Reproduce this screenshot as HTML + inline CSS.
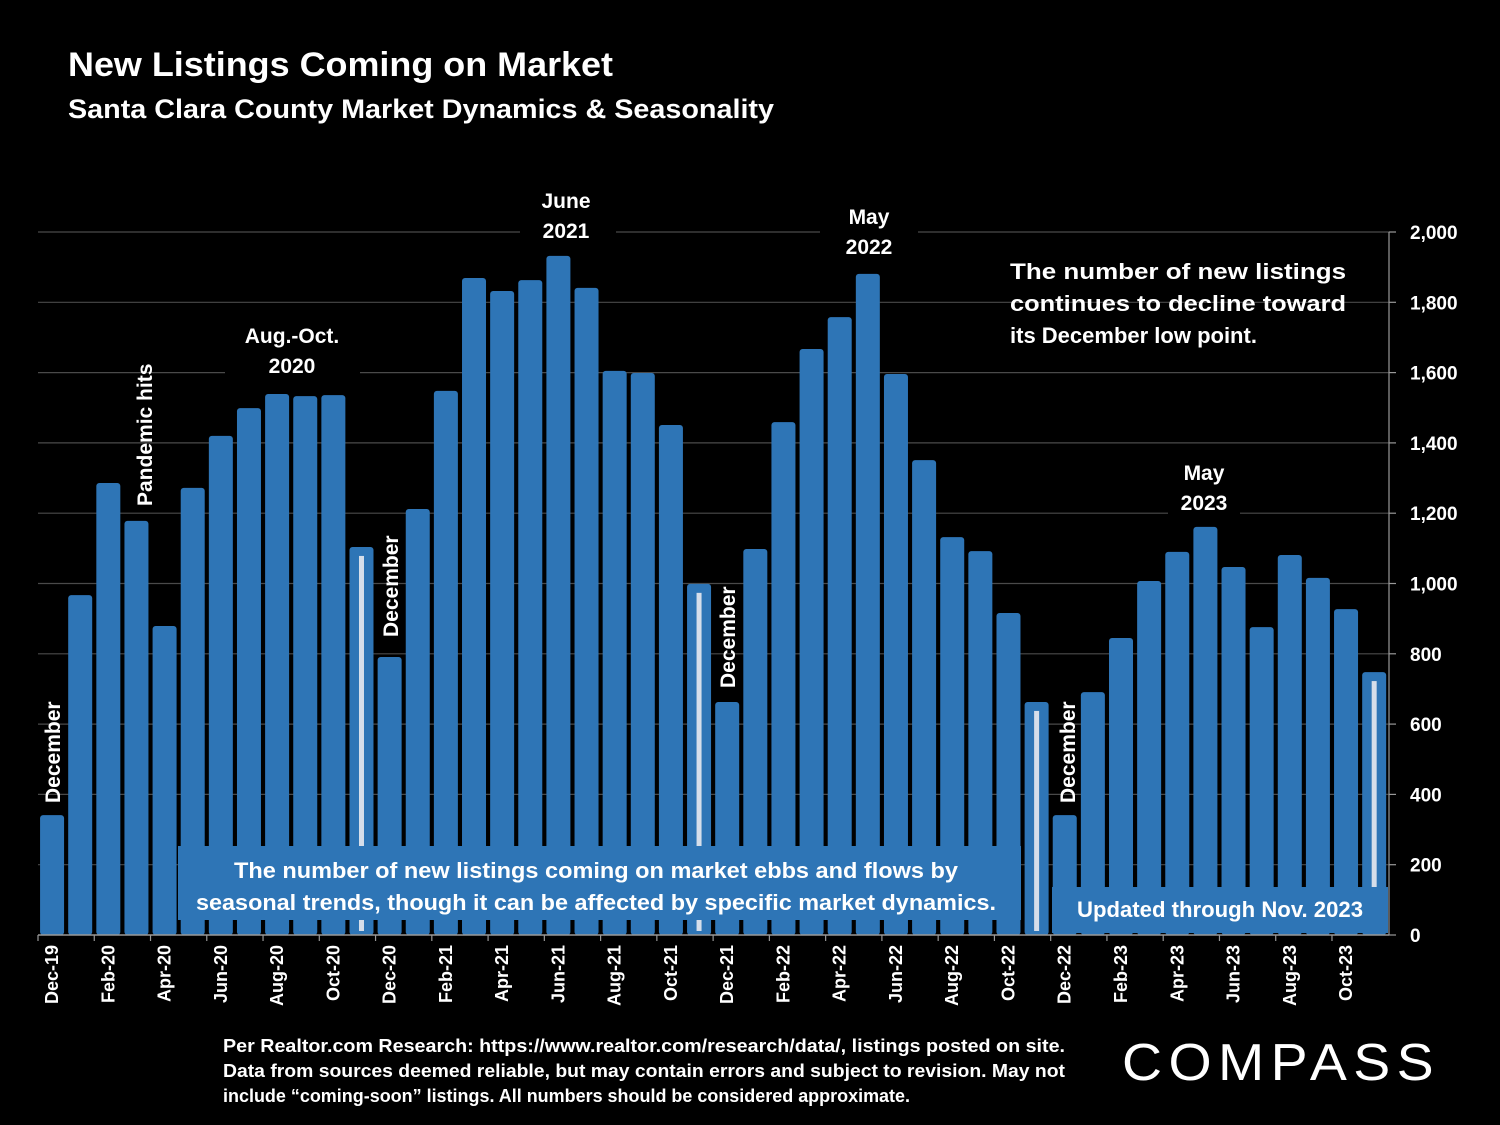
<!DOCTYPE html>
<html><head><meta charset="utf-8"><style>
html,body{margin:0;padding:0;background:#000;}
svg{display:block;font-family:"Liberation Sans",sans-serif;}
</style></head><body>
<svg id="chart" width="1500" height="1125" viewBox="0 0 1500 1125" xmlns="http://www.w3.org/2000/svg">
<rect width="1500" height="1125" fill="#000"/>
<text x="68" y="76" fill="#fff" font-size="34" font-weight="bold" textLength="545" lengthAdjust="spacingAndGlyphs">New Listings Coming on Market</text>
<text x="68" y="118" fill="#fff" font-size="27" font-weight="bold" textLength="706" lengthAdjust="spacingAndGlyphs">Santa Clara County Market Dynamics &amp; Seasonality</text>
<g id="grid"></g>
<g id="bars"></g>
<g id="axes"></g>
<g id="notes"></g>
</svg>
<script>
const months = ["Dec-19","Jan-20","Feb-20","Mar-20","Apr-20","May-20","Jun-20","Jul-20","Aug-20","Sep-20","Oct-20","Nov-20","Dec-20","Jan-21","Feb-21","Mar-21","Apr-21","May-21","Jun-21","Jul-21","Aug-21","Sep-21","Oct-21","Nov-21","Dec-21","Jan-22","Feb-22","Mar-22","Apr-22","May-22","Jun-22","Jul-22","Aug-22","Sep-22","Oct-22","Nov-22","Dec-22","Jan-23","Feb-23","Mar-23","Apr-23","May-23","Jun-23","Jul-23","Aug-23","Sep-23","Oct-23","Nov-23"];
const listings = [341,967,1286,1178,879,1272,1420,1499,1539,1533,1536,1104,791,1212,1548,1869,1832,1863,1932,1841,1605,1599,1451,999,663,1098,1459,1667,1758,1881,1596,1351,1132,1092,916,663,341,691,845,1007,1090,1161,1047,876,1081,1016,927,748];
const yTicks = [0,200,400,600,800,1000,1200,1400,1600,1800,2000];
const yTickLabels = ["0","200","400","600","800","1,000","1,200","1,400","1,600","1,800","2,000"];
const NS="http://www.w3.org/2000/svg";
const x0=38, step=28.13, bw=24, yBase=935, yTop=232, yMax=2000;
const xC = i => x0 + step*(i+0.5);
const yS = v => yBase - v/yMax*(yBase-yTop);
function mk(tag, attrs, parent){const e=document.createElementNS(NS,tag);for(const k in attrs)e.setAttribute(k,attrs[k]);parent.appendChild(e);return e;}
const grid=document.getElementById('grid'), bars=document.getElementById('bars'), axes=document.getElementById('axes'), notes=document.getElementById('notes');
yTicks.forEach((t,i)=>{
  if(t>0){const l=mk('line',{x1:x0,x2:1389,y1:yS(t),y2:yS(t),stroke:'#4a4a4a','stroke-width':1.2},grid);
  
  }
  const tk=mk('line',{x1:1389,x2:1396,y1:yS(t),y2:yS(t),stroke:'#999','stroke-width':1.2},axes);
  
  
  const tx=mk('text',{x:1410,y:yS(t)+7,fill:'#fff','font-size':19,'font-weight':'bold'},axes);
  
  
  tx.textContent=yTickLabels[i];
});
mk('line',{x1:1389,x2:1389,y1:yTop,y2:yBase,stroke:'#999','stroke-width':1.2},axes);
listings.forEach((v,i)=>{
  const r=mk('rect',{x:xC(i)-bw/2,y:yS(v),width:bw,height:yBase-yS(v),rx:3,fill:'#2e75b6'},bars);
  
  
  if(months[i].startsWith('Nov')){
    const s=mk('rect',{x:xC(i)-2.5,y:yS(v)+9,width:5,height:yBase-yS(v)-13,fill:'#d6deea'},bars);
    
    
  }
});
mk('line',{x1:x0,x2:1389,y1:yBase,y2:yBase,stroke:'#999','stroke-width':1.5},axes);
months.forEach((m,i)=>{
  if(i%2===0){
    const tk=mk('line',{x1:x0+step*i,x2:x0+step*i,y1:yBase,y2:yBase+6,stroke:'#999','stroke-width':1.2},axes);
    
    
    const tx=mk('text',{x:0,y:0,fill:'#fff','font-size':18,'font-weight':'bold','text-anchor':'end',transform:`translate(${xC(i)+6},945) rotate(-90)`},axes);
    
    
    tx.textContent=m;
  }
});
function label(lines,cx,y,name,bg){
  const g=mk('g',{},notes);
  
  
  if(bg) mk('rect',bg,g);
  lines.forEach((t,k)=>{const e=mk('text',{x:cx,y:y+k*30,fill:'#fff','font-size':21,'font-weight':'bold','text-anchor':'middle'},g);e.textContent=t;});
}
label(["Aug.-Oct.","2020"],292,343,'label-aug-oct-2020',{x:225,y:320,width:135,height:60,fill:'#000'});
label(["June","2021"],566,208,'label-june-2021',{x:520,y:185,width:96,height:60,fill:'#000'});
label(["May","2022"],869,224,'label-may-2022',{x:820,y:200,width:98,height:60,fill:'#000'});
label(["May","2023"],1204,480,'label-may-2023',{x:1168,y:458,width:72,height:60,fill:'#000'});
function vlabel(t,cx,yb,name){
  const e=mk('text',{x:0,y:0,fill:'#fff','font-size':21,'font-weight':'bold',transform:`translate(${cx+8},${yb}) rotate(-90)`},notes);
  
  
  e.textContent=t;
}
vlabel("December",52,803,'label-december-2019');
vlabel("Pandemic hits",144,506,'label-pandemic-hits');
vlabel("December",390,637,'label-december-2020');
vlabel("December",727,688,'label-december-2021');
vlabel("December",1067,803,'label-december-2022');
const side=mk('g',{},notes);


[["The  number  of  new  listings",279],["continues  to  decline  toward",311],["its December low point.",343]].forEach((a,k)=>{
  const e=mk('text',{x:1010,y:a[1],fill:'#fff','font-size':22,'font-weight':'bold'},side);
  if(k<2){e.setAttribute('textLength',336);e.setAttribute('lengthAdjust','spacingAndGlyphs');}
  e.textContent=a[0];
});
const box=mk('g',{},notes);


mk('rect',{x:178,y:846,width:843,height:74,fill:'#2e75b6'},box);
[["The number of new listings coming on market ebbs and flows by",878,724],["seasonal trends, though it can be affected by specific market dynamics.",910,800]].forEach(a=>{
  const e=mk('text',{x:596,y:a[1],fill:'#fff','font-size':22,'font-weight':'bold','text-anchor':'middle',textLength:a[2],lengthAdjust:'spacingAndGlyphs'},box);e.textContent=a[0];
});
const up=mk('g',{},notes);


mk('rect',{x:1052,y:887,width:336,height:46,fill:'#2e75b6'},up);
const ut=mk('text',{x:1220,y:917,fill:'#fff','font-size':22,'font-weight':'bold','text-anchor':'middle',textLength:286,lengthAdjust:'spacingAndGlyphs'},up);ut.textContent="Updated through Nov. 2023";
const src=mk('g',{},notes);


[["Per  Realtor.com  Research:   https://www.realtor.com/research/data/,  listings  posted  on  site.",1052,842],["Data from sources deemed reliable, but may contain errors and subject to revision. May not",1077,842],["include “coming-soon” listings. All numbers should be considered approximate.",1102,687]].forEach(a=>{
  const e=mk('text',{x:223,y:a[1],fill:'#fff','font-size':18,'font-weight':'bold',textLength:a[2],lengthAdjust:'spacingAndGlyphs'},src);e.textContent=a[0];
});
const logo=mk('text',{x:1122,y:1080,fill:'#fff','font-size':52,'letter-spacing':'6',textLength:318,lengthAdjust:'spacingAndGlyphs'},notes);


logo.textContent="COMPASS";
</script>
</body></html>
